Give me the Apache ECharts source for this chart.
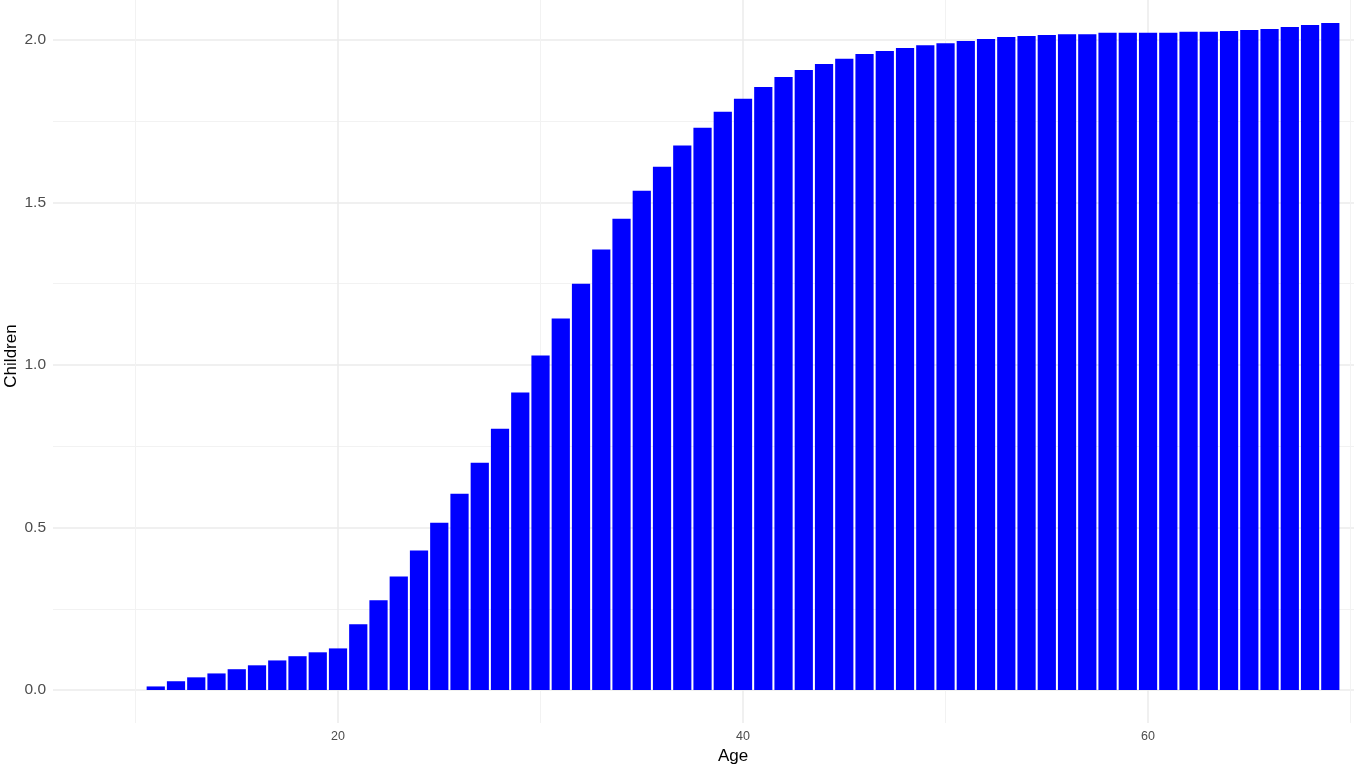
<!DOCTYPE html>
<html>
<head>
<meta charset="utf-8">
<script src="https://cdn.jsdelivr.net/npm/echarts@6/dist/echarts.min.js"></script>
<style>
  html, body { margin: 0; padding: 0; background: #fff; }
  #chart { width: 1354px; height: 766px; }
</style>
</head>
<body>
<div id="chart"></div>
<script>
// ages 11..69 and mean number of children
const ages = [11, 12, 13, 14, 15, 16, 17, 18, 19, 20,
  21, 22, 23, 24, 25, 26, 27, 28, 29, 30,
  31, 32, 33, 34, 35, 36, 37, 38, 39, 40,
  41, 42, 43, 44, 45, 46, 47, 48, 49, 50,
  51, 52, 53, 54, 55, 56, 57, 58, 59, 60,
  61, 62, 63, 64, 65, 66, 67, 68, 69]
const children = [0.011, 0.027, 0.039, 0.051, 0.064, 0.076, 0.091, 0.104, 0.116, 0.128,
  0.202, 0.276, 0.349, 0.429, 0.515, 0.604, 0.699, 0.804, 0.915, 1.029,
  1.143, 1.250, 1.355, 1.450, 1.536, 1.610, 1.675, 1.730, 1.779, 1.819,
  1.855, 1.886, 1.908, 1.926, 1.942, 1.957, 1.966, 1.975, 1.984, 1.990,
  1.997, 2.003, 2.009, 2.012, 2.015, 2.018, 2.018, 2.022, 2.022, 2.022,
  2.022, 2.025, 2.025, 2.028, 2.031, 2.034, 2.040, 2.046, 2.052]
const xMajorTicks = [20, 40, 60]
const xMinorTicks = [10, 30, 50, 70]
const yMajorTicks = [0, 0.5, 1.0, 1.5, 2.0]
const yMinorTicks = [0.25, 0.75, 1.25, 1.75]

const chartDom = document.getElementById('chart')
const chart = echarts.init(chartDom, null, { renderer: 'canvas' })

const font = '"Liberation Sans", Arial, Helvetica, sans-serif'
const gridLeft = 53, gridRight = 0, gridTop = 0, gridBottom = 43
const xMin = 5.926, xMax = 70.17
const yMin = -0.1015, yMax = 2.123
const plotWidth = 1354 - gridLeft - gridRight
// bars are 0.9 of an age unit wide
const barWidth = 0.9 * plotWidth / (xMax - xMin)

const majorLine = { show: true, lineStyle: { color: '#EBEBEB', width: 1.5 } }
const minorLine = { show: true, lineStyle: { color: '#F2F2F2', width: 1 } }

const option = {
  backgroundColor: '#ffffff',
  animation: false,
  grid: { left: gridLeft, right: gridRight, top: gridTop, bottom: gridBottom },
  xAxis: [
    {
      type: 'value', min: xMin, max: xMax,
      axisLine: { show: false },
      axisTick: { show: false, customValues: xMajorTicks },
      axisLabel: {
        customValues: xMajorTicks, color: '#4D4D4D', fontSize: 12.5,
        fontFamily: font, margin: 7,
      },
      splitLine: majorLine,
      z: 0,
    },
    {
      type: 'value', min: xMin, max: xMax, position: 'bottom',
      axisLine: { show: false },
      axisTick: { show: false, customValues: xMinorTicks },
      axisLabel: { show: false, customValues: xMinorTicks },
      splitLine: minorLine,
      z: 0,
    },
  ],
  yAxis: [
    {
      type: 'value', min: yMin, max: yMax,
      axisLine: { show: false },
      axisTick: { show: false, customValues: yMajorTicks },
      axisLabel: {
        customValues: yMajorTicks, color: '#4D4D4D', fontSize: 15.5,
        fontFamily: font, margin: 7,
        formatter: v => v.toFixed(1),
      },
      splitLine: majorLine,
      z: 0,
    },
    {
      type: 'value', min: yMin, max: yMax, position: 'left',
      axisLine: { show: false },
      axisTick: { show: false, customValues: yMinorTicks },
      axisLabel: { show: false, customValues: yMinorTicks },
      splitLine: minorLine,
      z: 0,
    },
  ],
  graphic: [
    {
      type: 'text', z: 10,
      x: 733, y: 756,
      style: {
        text: 'Age', font: '17px ' + font, fill: '#000',
        align: 'center', verticalAlign: 'middle',
      },
    },
    {
      type: 'text', z: 10,
      x: 11, y: 356, rotation: Math.PI / 2,
      style: {
        text: 'Children', font: '17px ' + font, fill: '#000',
        align: 'center', verticalAlign: 'middle',
      },
    },
  ],
  series: [
    {
      type: 'bar',
      xAxisIndex: 0,
      yAxisIndex: 0,
      barWidth: barWidth,
      data: ages.map((a, i) => [a, children[i]]),
      itemStyle: { color: '#0000FF' },
      z: 5,
    },
  ],
}
chart.setOption(option)
</script>
</body>
</html>
